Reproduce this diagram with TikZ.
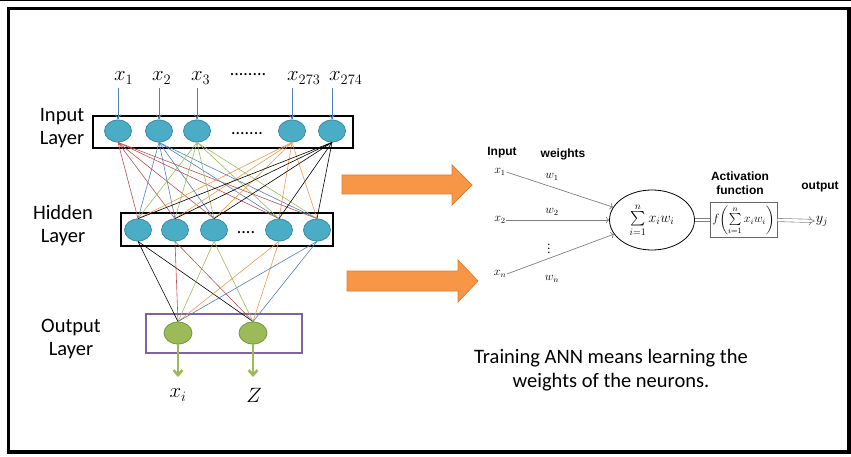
\documentclass[tikz,border=0pt]{standalone}
\usepackage{amsmath}
\usepackage{graphicx}
\usepackage{fontspec}
\setmainfont{Carlito}
\newfontfamily\arialfont{Liberation Sans}
\usetikzlibrary{arrows.meta,positioning,shapes.geometric}
\definecolor{turquesa}{HTML}{4BACC6}
\definecolor{turquesaborde}{HTML}{3A8CA3}
\definecolor{verdeclaro}{HTML}{9BBB59}
\definecolor{verdeborde}{HTML}{76923C}
\definecolor{morado}{HTML}{8064A2}
\definecolor{rojo}{HTML}{C0504D}
\definecolor{azul}{HTML}{4F81BD}
\definecolor{naranja}{HTML}{F79646}
\definecolor{naranjaborde}{HTML}{E07E30}
\definecolor{gris}{HTML}{7F7F7F}
\newcommand{\grande}[1]{\scalebox{1.2}{#1}}

\begin{document}
\begin{tikzpicture}[x=1pt,y=1pt,
  neurona/.style={ellipse,draw=turquesaborde,fill=turquesa,line width=0.8pt,
    minimum width=27pt,minimum height=22pt,inner sep=0pt},
  nsalida/.style={ellipse,draw=verdeborde,fill=verdeclaro,line width=0.8pt,
    minimum width=28pt,minimum height=22pt,inner sep=0pt},
  caja/.style={draw,line width=1.6pt,inner sep=0pt},
  capa/.style={font=\fontsize{20.5}{23}\selectfont,align=center},
  entrada/.style={font=\fontsize{17.28}{20}\selectfont,anchor=base west,inner sep=0pt},
  enlace/.style={line width=0.6pt},
  pequeno/.style={font=\fontsize{12}{14}\selectfont,inner sep=0.5pt},
  negrita/.style={font=\arialfont\bfseries\fontsize{12}{14}\selectfont,align=center,inner sep=0pt},
  doble/.style={draw=gris,double=white,double distance=2.6pt,line width=0.6pt}]
  \useasboundingbox (0,0) rectangle (851,-457);

  % Marco
  \draw[line width=1pt] (0,-1) -- (851,-1);
  \draw[line width=3.5pt] (8.5,-8.5) rectangle (849,-452);

  % Capa de entrada
  \node[caja,minimum width=260pt,minimum height=32pt] (cajain) at (223,-132) {};
  \node[neurona] (in1) at (118,-131) {};
  \node[neurona] (in2) at (159,-131) {};
  \node[neurona] (in3) at (197,-131) {};
  \node[neurona] (in4) at (292,-131) {};
  \node[neurona] (in5) at (332,-131) {};
  \node[font=\fontsize{18}{20}\selectfont] (ptsin) at (247,-134) {.......};
  \node[capa] (lblin) at (62,-128) {Input\\Layer};

  % Variables de entrada
  \node[entrada] (lx1) at (114,-81) {\grande{$x_1$}};
  \node[entrada] (lx2) at (152,-81) {\grande{$x_2$}};
  \node[entrada] (lx3) at (191,-81) {\grande{$x_3$}};
  \node[font=\fontsize{18}{20}\selectfont] (ptsx) at (248,-75) {........};
  \node[entrada] (lx4) at (287,-81) {\grande{$x_{273}$}};
  \node[entrada] (lx5) at (329,-81) {\grande{$x_{274}$}};
  \foreach \i in {1,...,5}
    \draw[azul,line width=0.7pt,-{To[length=5pt,width=6pt]}] (in\i |- 0,-88) -- (in\i.north);

  % Capa oculta
  \node[caja,minimum width=212pt,minimum height=33pt] (cajahid) at (227,-229.5) {};
  \node[neurona] (hid1) at (138,-230) {};
  \node[neurona] (hid2) at (175,-230) {};
  \node[neurona] (hid3) at (214,-230) {};
  \node[neurona] (hid4) at (279,-230) {};
  \node[neurona] (hid5) at (317,-230) {};
  \node[font=\fontsize{18}{20}\selectfont] (ptshid) at (246,-233) {....};
  \node[capa] (lblhid) at (63,-226) {Hidden\\Layer};

  % Capa de salida
  \node[draw=morado,line width=1.2pt,minimum width=156pt,minimum height=39pt,inner sep=0pt] (cajaout) at (224,-333.5) {};
  \node[nsalida] (out1) at (178,-333) {};
  \node[nsalida] (out2) at (253,-333) {};
  \node[capa] (lblout) at (71,-339) {Output\\Layer};

  % Conexiones entre capas
  \foreach \i/\col in {1/rojo,2/azul,3/verdeclaro,4/naranja,5/black}
    \foreach \j in {1,...,5}
      \draw[enlace,\col] (in\i.south) -- (hid\j.north);
  \foreach \i/\col in {1/black,2/rojo,3/verdeclaro,4/naranja,5/azul}
    \foreach \j in {1,2}
      \draw[enlace,\col] (hid\i.south) -- (out\j.north);

  % Salidas
  \coordinate (fin1) at (178,-377);
  \coordinate (fin2) at (253,-377);
  \draw[verdeclaro,line width=2.6pt,-{Straight Barb[length=5pt,width=9pt]}] (out1.south) -- (fin1);
  \draw[verdeclaro,line width=2.6pt,-{Straight Barb[length=5pt,width=9pt]}] (out2.south) -- (fin2);
  \node[font=\fontsize{17.28}{20}\selectfont] (lxi) at (178,-395) {\grande{$x_i$}};
  \node[font=\fontsize{17.28}{20}\selectfont] (lz) at (254,-395) {\grande{$Z$}};

  % Flechas naranjas
  \draw[naranjaborde,fill=naranja,line width=0.8pt]
    (342,-175) -- (452,-175) -- (452,-165) -- (472,-185) -- (452,-205)
    -- (452,-194) -- (342,-194) -- cycle;
  \draw[naranjaborde,fill=naranja,line width=0.8pt]
    (347,-271) -- (458,-271) -- (458,-260) -- (478,-281) -- (458,-302)
    -- (458,-291) -- (347,-291) -- cycle;

  % Modelo de la neurona
  \node[negrita] (tin) at (502,-153) {Input};
  \node[negrita] (tw) at (563,-154) {weights};
  \node[pequeno] (rx1) at (500,-172) {$x_1$};
  \node[pequeno] (rx2) at (500,-220) {$x_2$};
  \node[pequeno] (rxn) at (500,-274) {$x_n$};
  \node[pequeno] (rw1) at (552,-177) {$w_1$};
  \node[pequeno] (rw2) at (552,-212) {$w_2$};
  \node[pequeno] (rwn) at (552,-279) {$w_n$};
  \node[font=\fontsize{12}{14}\selectfont,inner sep=0pt] (pts) at (549,-246) {$\vdots$};
  \node[ellipse,draw,line width=0.8pt,minimum width=85pt,minimum height=60pt,inner sep=0pt,
    font=\fontsize{14.4}{16}\selectfont] (suma) at (652,-220) {$\textstyle\sum\limits_{i=1}^{n}x_i w_i$};
  \draw[gris,line width=0.7pt,->] (rx1.east) -- (suma);
  \draw[gris,line width=0.7pt,->] (rx2.east) -- (suma.west);
  \draw[gris,line width=0.7pt,->] (rxn.east) -- (suma);

  % Funcion de activacion
  \node[draw=gris!80!black,line width=1pt,minimum width=67pt,minimum height=34pt,inner sep=0pt,
    font=\fontsize{12}{14}\selectfont] (act) at (743.5,-220) {$f\!\left(\textstyle\sum\limits_{i=1}^{n}x_i w_i\right)$};
  \node[negrita] (tact) at (740,-183) {Activation\\function};
  \node[negrita] (tout) at (820,-187) {output};
  \node[font=\fontsize{14.4}{16}\selectfont,inner sep=1pt] (yj) at (822,-221) {$y_j$};
  \draw[doble] (suma.east) -- (act.west);
  \draw[doble,-{Implies}] (act.east) -- (yj.west);

  % Texto
  \node[font=\fontsize{20.5}{24}\selectfont,align=center] (texto) at (611,-370)
    {Training ANN means learning the\\weights of the neurons.};
\end{tikzpicture}
\end{document}
